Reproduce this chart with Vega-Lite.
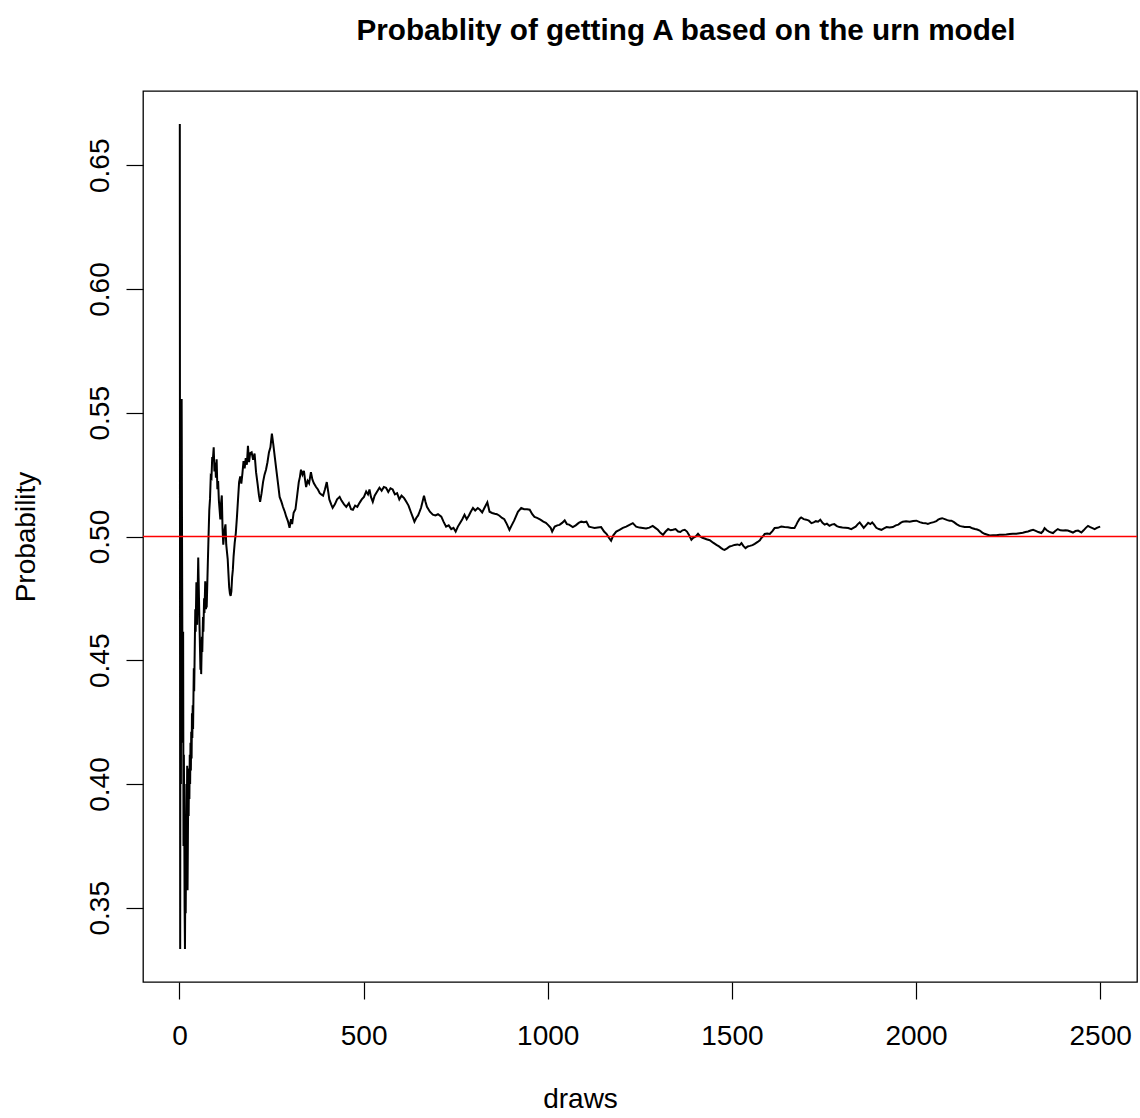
{
  "$schema": "https://vega.github.io/schema/vega-lite/v6.json",
  "width": 994,
  "height": 891,
  "autosize": {"type": "none"},
  "padding": {"left": 143, "top": 91, "right": 3, "bottom": 136},
  "background": "white",
  "title": {"text": "Probablity of getting A based on the urn model", "font": "Liberation Sans", "fontSize": 29.7, "fontWeight": "bold", "anchor": "middle", "dx": 46, "offset": 44, "color": "black"},
  "config": {
    "view": {"stroke": "black", "strokeWidth": 1.3},
    "axis": {"grid": false, "domain": false, "tickColor": "black", "tickWidth": 1.2, "tickSize": 17, "labelFont": "Liberation Sans", "labelFontSize": 28, "labelColor": "black", "titleFont": "Liberation Sans", "titleFontSize": 28, "titleFontWeight": "normal", "titleColor": "black"}
  },
  "datasets": {
    "urn": [
      {"d":1,"p":0.6667},{"d":2,"p":0.3333},{"d":3,"p":0.5},{"d":4,"p":0.4},{"d":5,"p":0.5},{"d":6,"p":0.5556},{"d":7,"p":0.5},{"d":8,"p":0.4545},{"d":9,"p":0.4167},{"d":10,"p":0.4615},
      {"d":11,"p":0.375},{"d":12,"p":0.4118},{"d":13,"p":0.3889},{"d":14,"p":0.35},{"d":15,"p":0.3333},{"d":16,"p":0.3636},{"d":17,"p":0.3478},{"d":18,"p":0.375},{"d":19,"p":0.4},{"d":20,"p":0.3846},
      {"d":21,"p":0.4074},{"d":22,"p":0.3571},{"d":23,"p":0.3793},{"d":24,"p":0.4},{"d":25,"p":0.3871},{"d":26,"p":0.4063},{"d":27,"p":0.3939},{"d":28,"p":0.4118},{"d":29,"p":0.4},{"d":30,"p":0.4167},
      {"d":31,"p":0.4054},{"d":32,"p":0.4211},{"d":33,"p":0.4103},{"d":34,"p":0.4286},{"d":35,"p":0.4186},{"d":36,"p":0.4318},{"d":37,"p":0.4222},{"d":38,"p":0.4348},{"d":39,"p":0.4468},{"d":40,"p":0.4375},
      {"d":41,"p":0.449},{"d":42,"p":0.46},{"d":43,"p":0.4706},{"d":44,"p":0.4615},{"d":45,"p":0.4717},{"d":46,"p":0.4815},{"d":47,"p":0.4727},{"d":48,"p":0.4643},{"d":49,"p":0.4737},{"d":50,"p":0.4828},
      {"d":51,"p":0.4915},{"d":52,"p":0.4833},{"d":53,"p":0.4754},{"d":54,"p":0.4677},{"d":55,"p":0.4603},{"d":56,"p":0.4531},{"d":57,"p":0.4462},{"d":58,"p":0.4545},{"d":59,"p":0.4444},{"d":60,"p":0.4521},
      {"d":61,"p":0.4595},{"d":62,"p":0.4533},{"d":63,"p":0.4605},{"d":64,"p":0.4675},{"d":65,"p":0.4615},{"d":66,"p":0.4684},{"d":67,"p":0.475},{"d":68,"p":0.4691},{"d":69,"p":0.4756},{"d":70,"p":0.4819},
      {"d":71,"p":0.4762},{"d":72,"p":0.4706},{"d":73,"p":0.4767},{"d":74,"p":0.4713},{"d":75,"p":0.4773},{"d":77,"p":0.4889},{"d":79,"p":0.5},{"d":81,"p":0.5106},{"d":83,"p":0.5152},{"d":85,"p":0.5243},
      {"d":87,"p":0.5238},{"d":89,"p":0.5321},{"d":91,"p":0.5315},{"d":93,"p":0.536},{"d":95,"p":0.5263},{"d":97,"p":0.5299},{"d":99,"p":0.5238},{"d":101,"p":0.5312},{"d":103,"p":0.5191},{"d":105,"p":0.5224},
      {"d":107,"p":0.5147},{"d":109,"p":0.5108},{"d":111,"p":0.5069},{"d":113,"p":0.5135},{"d":115,"p":0.5166},{"d":117,"p":0.5034},{"d":119,"p":0.4967},{"d":121,"p":0.5},{"d":123,"p":0.5032},{"d":125,"p":0.5049},
      {"d":127,"p":0.4968},{"d":129,"p":0.4938},{"d":131,"p":0.4909},{"d":133,"p":0.4851},{"d":135,"p":0.4795},{"d":137,"p":0.477},{"d":139,"p":0.476},{"d":141,"p":0.4778},{"d":143,"p":0.4835},{"d":145,"p":0.4865},
      {"d":147,"p":0.492},{"d":150,"p":0.4974},{"d":153,"p":0.5013},{"d":156,"p":0.5076},{"d":159,"p":0.5149},{"d":162,"p":0.522},{"d":165,"p":0.5243},{"d":168,"p":0.5214},{"d":171,"p":0.5255},{"d":174,"p":0.5305},
      {"d":177,"p":0.5275},{"d":180,"p":0.5317},{"d":183,"p":0.529},{"d":186,"p":0.5366},{"d":189,"p":0.53},{"d":192,"p":0.5337},{"d":196,"p":0.534},{"d":200,"p":0.531},{"d":204,"p":0.5335},{"d":208,"p":0.526},
      {"d":212,"p":0.5215},{"d":216,"p":0.5165},{"d":219,"p":0.514},{"d":223,"p":0.5175},{"d":227,"p":0.522},{"d":231,"p":0.525},{"d":235,"p":0.527},{"d":239,"p":0.53},{"d":243,"p":0.534},{"d":247,"p":0.536},
      {"d":251,"p":0.5416},{"d":255,"p":0.537},{"d":259,"p":0.532},{"d":263,"p":0.527},{"d":268,"p":0.521},{"d":272,"p":0.516},{"d":277,"p":0.514},{"d":281,"p":0.512},{"d":286,"p":0.51},{"d":290,"p":0.508},
      {"d":295,"p":0.506},{"d":299,"p":0.5035},{"d":303,"p":0.507},{"d":306,"p":0.505},{"d":310,"p":0.5096},{"d":315,"p":0.511},{"d":320,"p":0.517},{"d":324,"p":0.522},{"d":327,"p":0.524},{"d":330,"p":0.527},
      {"d":334,"p":0.525},{"d":338,"p":0.5265},{"d":341,"p":0.523},{"d":344,"p":0.52},{"d":348,"p":0.5225},{"d":352,"p":0.5215},{"d":357,"p":0.526},{"d":361,"p":0.523},{"d":365,"p":0.5215},{"d":371,"p":0.52},
      {"d":376,"p":0.519},{"d":381,"p":0.5175},{"d":385,"p":0.517},{"d":390,"p":0.5165},{"d":395,"p":0.519},{"d":400,"p":0.522},{"d":404,"p":0.518},{"d":407,"p":0.515},{"d":412,"p":0.513},{"d":416,"p":0.5116},
      {"d":422,"p":0.513},{"d":428,"p":0.515},{"d":435,"p":0.516},{"d":440,"p":0.5145},{"d":447,"p":0.513},{"d":453,"p":0.512},{"d":460,"p":0.5135},{"d":466,"p":0.511},{"d":471,"p":0.5108},{"d":477,"p":0.5125},
      {"d":483,"p":0.512},{"d":489,"p":0.5136},{"d":495,"p":0.515},{"d":501,"p":0.516},{"d":507,"p":0.5182},{"d":512,"p":0.517},{"d":516,"p":0.519},{"d":520,"p":0.516},{"d":525,"p":0.514},{"d":530,"p":0.5165},
      {"d":536,"p":0.518},{"d":543,"p":0.5197},{"d":549,"p":0.5185},{"d":555,"p":0.52},{"d":561,"p":0.5197},{"d":567,"p":0.518},{"d":573,"p":0.5195},{"d":579,"p":0.519},{"d":585,"p":0.517},{"d":591,"p":0.5175},
      {"d":597,"p":0.515},{"d":603,"p":0.5165},{"d":610,"p":0.5155},{"d":616,"p":0.514},{"d":622,"p":0.5125},{"d":628,"p":0.51},{"d":633,"p":0.508},{"d":638,"p":0.506},{"d":643,"p":0.5075},{"d":648,"p":0.5085},
      {"d":652,"p":0.51},{"d":656,"p":0.5116},{"d":660,"p":0.514},{"d":664,"p":0.5165},{"d":668,"p":0.514},{"d":672,"p":0.512},{"d":676,"p":0.511},{"d":680,"p":0.51},{"d":688,"p":0.5088},{"d":695,"p":0.5085},
      {"d":702,"p":0.509},{"d":711,"p":0.508},{"d":717,"p":0.506},{"d":724,"p":0.504},{"d":731,"p":0.5045},{"d":738,"p":0.503},{"d":744,"p":0.5035},{"d":750,"p":0.502},{"d":756,"p":0.504},{"d":762,"p":0.5055},
      {"d":768,"p":0.507},{"d":774,"p":0.5088},{"d":780,"p":0.507},{"d":786,"p":0.5085},{"d":791,"p":0.51},{"d":797,"p":0.5115},{"d":803,"p":0.5105},{"d":810,"p":0.5115},{"d":816,"p":0.5108},{"d":822,"p":0.5097},
      {"d":828,"p":0.5115},{"d":836,"p":0.5138},{"d":842,"p":0.51},{"d":849,"p":0.5095},{"d":856,"p":0.5092},{"d":862,"p":0.509},{"d":869,"p":0.5084},{"d":876,"p":0.5075},{"d":882,"p":0.507},{"d":889,"p":0.505},
      {"d":896,"p":0.5027},{"d":902,"p":0.5045},{"d":909,"p":0.5065},{"d":919,"p":0.51},{"d":928,"p":0.5115},{"d":936,"p":0.511},{"d":944,"p":0.511},{"d":951,"p":0.5108},{"d":958,"p":0.509},{"d":964,"p":0.5079},
      {"d":971,"p":0.5075},{"d":980,"p":0.5068},{"d":988,"p":0.506},{"d":995,"p":0.5055},{"d":1002,"p":0.5045},{"d":1008,"p":0.5035},{"d":1012,"p":0.502},{"d":1019,"p":0.504},{"d":1026,"p":0.5045},{"d":1032,"p":0.5047},
      {"d":1039,"p":0.5055},{"d":1046,"p":0.5065},{"d":1052,"p":0.505},{"d":1058,"p":0.5048},{"d":1068,"p":0.5038},{"d":1076,"p":0.5045},{"d":1084,"p":0.5055},{"d":1091,"p":0.506},{"d":1098,"p":0.5058},{"d":1105,"p":0.506},
      {"d":1112,"p":0.504},{"d":1120,"p":0.5037},{"d":1127,"p":0.5034},{"d":1136,"p":0.5036},{"d":1145,"p":0.5038},{"d":1153,"p":0.502},{"d":1160,"p":0.501},{"d":1166,"p":0.4995},{"d":1172,"p":0.4983},{"d":1178,"p":0.5005},
      {"d":1186,"p":0.502},{"d":1195,"p":0.5027},{"d":1204,"p":0.5035},{"d":1213,"p":0.504},{"d":1222,"p":0.5047},{"d":1231,"p":0.5054},{"d":1240,"p":0.504},{"d":1249,"p":0.5036},{"d":1258,"p":0.5034},{"d":1267,"p":0.5032},
      {"d":1276,"p":0.5036},{"d":1285,"p":0.5043},{"d":1292,"p":0.5035},{"d":1299,"p":0.5027},{"d":1306,"p":0.5015},{"d":1313,"p":0.5007},{"d":1320,"p":0.502},{"d":1327,"p":0.503},{"d":1334,"p":0.5025},{"d":1340,"p":0.5027},
      {"d":1347,"p":0.503},{"d":1354,"p":0.502},{"d":1360,"p":0.5018},{"d":1366,"p":0.5025},{"d":1372,"p":0.5027},{"d":1378,"p":0.502},{"d":1384,"p":0.5005},{"d":1390,"p":0.4987},{"d":1395,"p":0.4995},{"d":1402,"p":0.5},
      {"d":1408,"p":0.5011},{"d":1414,"p":0.5},{"d":1420,"p":0.4995},{"d":1426,"p":0.4992},{"d":1431,"p":0.4989},{"d":1440,"p":0.4985},{"d":1449,"p":0.4975},{"d":1458,"p":0.4966},{"d":1465,"p":0.496},{"d":1471,"p":0.4953},
      {"d":1476,"p":0.4948},{"d":1480,"p":0.4946},{"d":1487,"p":0.4952},{"d":1494,"p":0.496},{"d":1500,"p":0.4962},{"d":1507,"p":0.4966},{"d":1515,"p":0.4968},{"d":1521,"p":0.4965},{"d":1526,"p":0.4973},{"d":1531,"p":0.4962},
      {"d":1537,"p":0.4953},{"d":1543,"p":0.496},{"d":1549,"p":0.4962},{"d":1556,"p":0.4965},{"d":1562,"p":0.497},{"d":1570,"p":0.4978},{"d":1576,"p":0.4985},{"d":1580,"p":0.4994},{"d":1585,"p":0.5002},{"d":1589,"p":0.501},
      {"d":1596,"p":0.5012},{"d":1603,"p":0.501},{"d":1610,"p":0.5022},{"d":1616,"p":0.5034},{"d":1625,"p":0.5035},{"d":1634,"p":0.504},{"d":1643,"p":0.5038},{"d":1652,"p":0.5037},{"d":1661,"p":0.5034},{"d":1670,"p":0.5034},
      {"d":1675,"p":0.5048},{"d":1679,"p":0.506},{"d":1684,"p":0.5072},{"d":1688,"p":0.5077},{"d":1695,"p":0.507},{"d":1702,"p":0.5068},{"d":1709,"p":0.5064},{"d":1716,"p":0.5054},{"d":1722,"p":0.5057},{"d":1728,"p":0.5062},
      {"d":1734,"p":0.506},{"d":1740,"p":0.5068},{"d":1746,"p":0.5055},{"d":1752,"p":0.5048},{"d":1758,"p":0.5052},{"d":1765,"p":0.5043},{"d":1771,"p":0.5048},{"d":1778,"p":0.505},{"d":1785,"p":0.5042},{"d":1792,"p":0.5038},
      {"d":1800,"p":0.5036},{"d":1808,"p":0.5035},{"d":1816,"p":0.5034},{"d":1824,"p":0.503},{"d":1830,"p":0.5035},{"d":1836,"p":0.504},{"d":1842,"p":0.505},{"d":1847,"p":0.5057},{"d":1853,"p":0.5045},{"d":1858,"p":0.5035},
      {"d":1864,"p":0.5045},{"d":1870,"p":0.5055},{"d":1876,"p":0.505},{"d":1881,"p":0.5057},{"d":1886,"p":0.5048},{"d":1892,"p":0.5035},{"d":1899,"p":0.503},{"d":1906,"p":0.5027},{"d":1913,"p":0.5033},{"d":1920,"p":0.5038},
      {"d":1928,"p":0.5036},{"d":1937,"p":0.5038},{"d":1945,"p":0.5045},{"d":1952,"p":0.5048},{"d":1958,"p":0.5055},{"d":1964,"p":0.506},{"d":1973,"p":0.5062},{"d":1983,"p":0.506},{"d":1992,"p":0.5063},{"d":2001,"p":0.5064},
      {"d":2010,"p":0.5058},{"d":2018,"p":0.5055},{"d":2026,"p":0.5054},{"d":2032,"p":0.5051},{"d":2040,"p":0.5055},{"d":2048,"p":0.5058},{"d":2055,"p":0.5062},{"d":2060,"p":0.5068},{"d":2066,"p":0.5072},{"d":2071,"p":0.5074},
      {"d":2078,"p":0.507},{"d":2085,"p":0.5066},{"d":2091,"p":0.5064},{"d":2096,"p":0.5064},{"d":2103,"p":0.5058},{"d":2110,"p":0.505},{"d":2118,"p":0.5043},{"d":2126,"p":0.504},{"d":2132,"p":0.5038},{"d":2140,"p":0.5038},
      {"d":2146,"p":0.5038},{"d":2153,"p":0.5033},{"d":2160,"p":0.503},{"d":2166,"p":0.5028},{"d":2173,"p":0.5024},{"d":2180,"p":0.5016},{"d":2186,"p":0.5011},{"d":2192,"p":0.5008},{"d":2200,"p":0.5004},{"d":2209,"p":0.5005},
      {"d":2218,"p":0.5005},{"d":2227,"p":0.5007},{"d":2236,"p":0.5007},{"d":2245,"p":0.5008},{"d":2254,"p":0.501},{"d":2263,"p":0.5011},{"d":2272,"p":0.5011},{"d":2281,"p":0.5013},{"d":2290,"p":0.5015},{"d":2297,"p":0.5018},
      {"d":2304,"p":0.502},{"d":2311,"p":0.5024},{"d":2318,"p":0.5027},{"d":2325,"p":0.5023},{"d":2332,"p":0.5018},{"d":2340,"p":0.5014},{"d":2345,"p":0.5022},{"d":2349,"p":0.5034},{"d":2355,"p":0.5025},{"d":2361,"p":0.502},
      {"d":2367,"p":0.5016},{"d":2372,"p":0.5014},{"d":2378,"p":0.5022},{"d":2385,"p":0.503},{"d":2392,"p":0.5025},{"d":2399,"p":0.5024},{"d":2406,"p":0.5025},{"d":2412,"p":0.5024},{"d":2419,"p":0.502},{"d":2426,"p":0.5016},
      {"d":2433,"p":0.5022},{"d":2440,"p":0.5024},{"d":2445,"p":0.502},{"d":2449,"p":0.5016},{"d":2455,"p":0.5025},{"d":2461,"p":0.5035},{"d":2467,"p":0.5043},{"d":2473,"p":0.5038},{"d":2479,"p":0.5034},{"d":2485,"p":0.503},
      {"d":2491,"p":0.5035},{"d":2496,"p":0.5038},{"d":2500,"p":0.504}
    ]
  },
  "layer": [
    {
      "data": {"name": "urn"},
      "mark": {"type": "line", "color": "black", "strokeWidth": 2},
      "encoding": {
        "x": {"field": "d", "type": "quantitative", "scale": {"domain": [-98.96, 2599.96], "nice": false, "zero": false},
              "axis": {"values": [0, 500, 1000, 1500, 2000, 2500], "format": "d", "title": "draws", "titleX": 437, "labelPadding": 23, "titlePadding": 35, "labelFlush": false, "labelOverlap": false}},
        "y": {"field": "p", "type": "quantitative", "scale": {"domain": [0.32, 0.68], "nice": false, "zero": false},
              "axis": {"values": [0.35, 0.4, 0.45, 0.5, 0.55, 0.6, 0.65], "format": ".2f", "title": "Probability", "labelAngle": -90, "labelAlign": "center", "labelBaseline": "bottom", "labelPadding": 12, "titlePadding": 46, "labelFlush": false, "labelOverlap": false}}
      }
    },
    {
      "data": {"values": [{}]},
      "mark": {"type": "rule", "color": "red", "strokeWidth": 1.6},
      "encoding": {"y": {"datum": 0.5}}
    }
  ]
}
